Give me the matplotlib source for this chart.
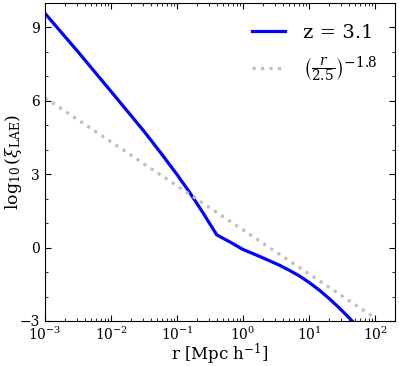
import matplotlib
matplotlib.use('Agg')
import matplotlib.pyplot as plt
from matplotlib.ticker import MultipleLocator, LogLocator

plt.rcParams['font.family'] = 'DejaVu Serif'
plt.rcParams['mathtext.fontset'] = 'dejavuserif'

# curva do LAE em z = 3.1
r_lae = [1e-3, 3.16e-3, 1e-2, 3.16e-2, 5.62e-2, 0.1, 0.158, 0.251, 0.398,
         0.631, 1.0, 1.778, 3.548, 5.012, 7.079, 10.0, 14.13, 19.95, 28.18,
         39.81, 47.86]
log_xi = [9.57, 8.0, 6.38, 4.75, 3.88, 2.98, 2.22, 1.39, 0.52,
          0.23, -0.08, -0.36, -0.72, -0.93, -1.155, -1.425, -1.73, -2.075,
          -2.45, -2.855, -3.08]

# lei de potencia (r/2.5)^-1.8
r_pl = [1e-3, 1e2]
log_pl = [6.12, -2.88]

fig = plt.figure(figsize=(3.99, 3.66), dpi=100)
ax = fig.add_axes([0.113, 0.123, 0.877, 0.869])

ax.plot(r_lae, log_xi, color='#0000ff', lw=2.3, label='z = 3.1')
ax.plot(r_pl, log_pl, color='#c0c0c0', lw=2.3, ls=':',
        label=r'$\left(\frac{r}{2.5}\right)^{-1.8}$')

ax.set_xscale('log')
ax.set_xlim(1e-3, 2e2)
ax.set_ylim(-3, 10)
ax.yaxis.set_major_locator(MultipleLocator(3))
ax.yaxis.set_minor_locator(MultipleLocator(1))
ax.xaxis.set_minor_locator(LogLocator(base=10, subs=range(2, 10), numticks=20))

ax.tick_params(which='both', direction='in', top=True, right=True, labelsize=10)
ax.tick_params(which='major', length=4)
ax.tick_params(which='minor', length=2.5)

ax.set_xlabel(r'r [Mpc h$^{-1}$]', fontsize=12)
ax.set_ylabel(r'$\log_{10}(\xi_{\rm LAE})$', fontsize=12.5)
ax.xaxis.set_label_coords(0.5, -0.065)
ax.yaxis.set_label_coords(-0.06, 0.5)

ax.legend(loc='upper right', bbox_to_anchor=(1.0, 0.99), frameon=False,
          fontsize=14, handlelength=1.7, handletextpad=0.9, labelspacing=0.7)

plt.savefig('out.png', dpi=100)
